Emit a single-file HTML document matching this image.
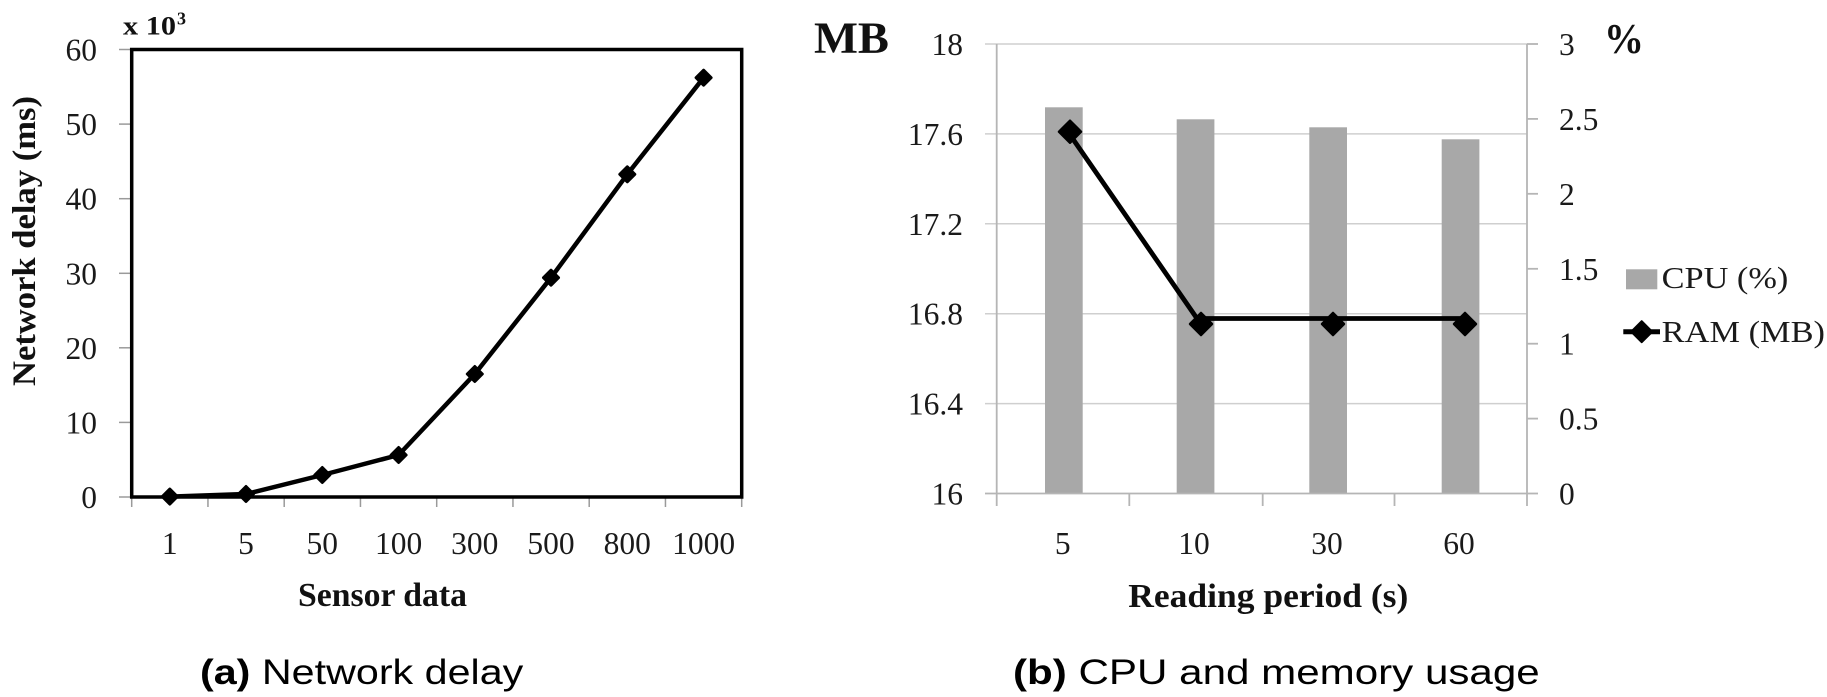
<!DOCTYPE html>
<html>
<head>
<meta charset="utf-8">
<style>
  html, body { margin:0; padding:0; background:#fff; }
  svg { display:block; }
  .serif { font-family: "Liberation Serif", serif; }
  .sans { font-family: "Liberation Sans", sans-serif; }
</style>
</head>
<body>
<svg width="1827" height="697" viewBox="0 0 1827 697" xmlns="http://www.w3.org/2000/svg">
  <rect x="0" y="0" width="1827" height="697" fill="#fff"/>

  <!-- ================= LEFT CHART ================= -->
  <g stroke="#9a9a9a" stroke-width="1.5">
    <line x1="119" y1="49.5" x2="131" y2="49.5"/>
    <line x1="119" y1="124.1" x2="131" y2="124.1"/>
    <line x1="119" y1="198.7" x2="131" y2="198.7"/>
    <line x1="119" y1="273.3" x2="131" y2="273.3"/>
    <line x1="119" y1="347.8" x2="131" y2="347.8"/>
    <line x1="119" y1="422.4" x2="131" y2="422.4"/>
    <line x1="119" y1="497" x2="131" y2="497"/>
  </g>
  <g stroke="#9a9a9a" stroke-width="1.5">
    <line x1="131.7" y1="497" x2="131.7" y2="507"/>
    <line x1="207.95" y1="497" x2="207.95" y2="507"/>
    <line x1="284.2" y1="497" x2="284.2" y2="507"/>
    <line x1="360.45" y1="497" x2="360.45" y2="507"/>
    <line x1="436.7" y1="497" x2="436.7" y2="507"/>
    <line x1="512.95" y1="497" x2="512.95" y2="507"/>
    <line x1="589.2" y1="497" x2="589.2" y2="507"/>
    <line x1="665.45" y1="497" x2="665.45" y2="507"/>
    <line x1="741.7" y1="497" x2="741.7" y2="507"/>
  </g>
  <rect x="131.7" y="49.5" width="610" height="447.5" fill="none" stroke="#000" stroke-width="3.5"/>

  <g class="serif" font-size="31.5" fill="#1a1a1a" text-anchor="end">
    <text x="97" y="60.5">60</text>
    <text x="97" y="135.1">50</text>
    <text x="97" y="209.7">40</text>
    <text x="97" y="284.3">30</text>
    <text x="97" y="358.8">20</text>
    <text x="97" y="433.4">10</text>
    <text x="97" y="508">0</text>
  </g>
  <g class="serif" font-size="31.5" fill="#1a1a1a" text-anchor="middle">
    <text x="169.8" y="554">1</text>
    <text x="246" y="554">5</text>
    <text x="322.3" y="554">50</text>
    <text x="398.6" y="554">100</text>
    <text x="474.8" y="554">300</text>
    <text x="551" y="554">500</text>
    <text x="627.3" y="554">800</text>
    <text x="703.6" y="554">1000</text>
  </g>

  <text class="serif" x="123" y="34.5" font-size="26" font-weight="bold" fill="#111" textLength="53" lengthAdjust="spacingAndGlyphs">x 10</text>
  <text class="serif" x="177" y="24.5" font-size="18" font-weight="bold" fill="#111">3</text>

  <text class="serif" x="298" y="606" font-size="34" font-weight="bold" fill="#111" textLength="169" lengthAdjust="spacingAndGlyphs">Sensor data</text>
  <text class="serif" transform="translate(35,241) rotate(-90)" x="-145" y="0" font-size="33" font-weight="bold" fill="#111" textLength="290" lengthAdjust="spacingAndGlyphs">Network delay  (ms)</text>

  <polyline fill="none" stroke="#000" stroke-width="4.5" stroke-linejoin="round" stroke-linecap="round"
    points="169.8,496.6 246,494 322.3,475 398.6,455 474.8,374 551,277.7 627.3,174.3 703.6,77.7"/>
  <g fill="#000" stroke="#000" stroke-width="3" stroke-linejoin="round">
    <path d="M169.8,489.1 L177.3,496.6 L169.8,504.1 L162.3,496.6 Z"/>
    <path d="M246,486.5 L253.5,494 L246,501.5 L238.5,494 Z"/>
    <path d="M322.3,467.5 L329.8,475 L322.3,482.5 L314.8,475 Z"/>
    <path d="M398.6,447.5 L406.1,455 L398.6,462.5 L391.1,455 Z"/>
    <path d="M474.8,366.5 L482.3,374 L474.8,381.5 L467.3,374 Z"/>
    <path d="M551,270.2 L558.5,277.7 L551,285.2 L543.5,277.7 Z"/>
    <path d="M627.3,166.8 L634.8,174.3 L627.3,181.8 L619.8,174.3 Z"/>
    <path d="M703.6,70.2 L711.1,77.7 L703.6,85.2 L696.1,77.7 Z"/>
  </g>

  <g transform="translate(200,684) scale(1.179,1)">
    <text class="sans" x="0" y="0" font-size="35" fill="#000"><tspan font-weight="bold">(a)</tspan> Network delay</text>
  </g>

  <!-- ================= RIGHT CHART ================= -->
  <g stroke="#cfcfcf" stroke-width="1.5">
    <line x1="985" y1="44" x2="1527" y2="44"/>
    <line x1="985" y1="133.9" x2="1527" y2="133.9"/>
    <line x1="985" y1="223.8" x2="1527" y2="223.8"/>
    <line x1="985" y1="313.7" x2="1527" y2="313.7"/>
    <line x1="985" y1="403.6" x2="1527" y2="403.6"/>
  </g>
  <g fill="#a8a8a8">
    <rect x="1045" y="107.3" width="37.7" height="386.2"/>
    <rect x="1176.7" y="119.3" width="37.7" height="374.2"/>
    <rect x="1309.3" y="127.3" width="37.7" height="366.2"/>
    <rect x="1441.7" y="139.3" width="37.7" height="354.2"/>
  </g>
  <g stroke="#b5b5b5" stroke-width="1.8">
    <line x1="996.7" y1="44" x2="996.7" y2="493.5"/>
    <line x1="1527" y1="44" x2="1527" y2="493.5"/>
    <line x1="985" y1="493.5" x2="1527" y2="493.5"/>
    <line x1="996.7" y1="493.5" x2="996.7" y2="506"/>
    <line x1="1129.3" y1="493.5" x2="1129.3" y2="506"/>
    <line x1="1262.7" y1="493.5" x2="1262.7" y2="506"/>
    <line x1="1394.5" y1="493.5" x2="1394.5" y2="506"/>
    <line x1="1527" y1="493.5" x2="1527" y2="506"/>
    <line x1="1527" y1="44" x2="1538" y2="44"/>
    <line x1="1527" y1="118.9" x2="1538" y2="118.9"/>
    <line x1="1527" y1="193.8" x2="1538" y2="193.8"/>
    <line x1="1527" y1="268.8" x2="1538" y2="268.8"/>
    <line x1="1527" y1="343.7" x2="1538" y2="343.7"/>
    <line x1="1527" y1="418.6" x2="1538" y2="418.6"/>
    <line x1="1527" y1="493.5" x2="1538" y2="493.5"/>
  </g>

  <g class="serif" font-size="31.5" fill="#1a1a1a" text-anchor="end">
    <text x="963" y="55">18</text>
    <text x="963" y="144.9">17.6</text>
    <text x="963" y="234.8">17.2</text>
    <text x="963" y="324.7">16.8</text>
    <text x="963" y="414.6">16.4</text>
    <text x="963" y="504.5">16</text>
  </g>
  <g class="serif" font-size="31.5" fill="#1a1a1a">
    <text x="1559" y="55">3</text>
    <text x="1559" y="129.9">2.5</text>
    <text x="1559" y="204.8">2</text>
    <text x="1559" y="279.8">1.5</text>
    <text x="1559" y="354.7">1</text>
    <text x="1559" y="429.6">0.5</text>
    <text x="1559" y="504.5">0</text>
  </g>
  <g class="serif" font-size="31.5" fill="#1a1a1a" text-anchor="middle">
    <text x="1062.7" y="554">5</text>
    <text x="1194" y="554">10</text>
    <text x="1327" y="554">30</text>
    <text x="1459" y="554">60</text>
  </g>

  <text class="serif" x="814" y="52.3" font-size="44" font-weight="bold" fill="#111" textLength="75" lengthAdjust="spacingAndGlyphs">MB</text>
  <text class="serif" x="1604" y="53" font-size="42" font-weight="bold" fill="#111" textLength="40" lengthAdjust="spacingAndGlyphs">%</text>

  <text class="serif" x="1128.3" y="607" font-size="34" font-weight="bold" fill="#111" textLength="280" lengthAdjust="spacingAndGlyphs">Reading period (s)</text>

  <polyline fill="none" stroke="#000" stroke-width="4.8" stroke-linejoin="round" stroke-linecap="round"
    points="1066,129 1197,318.5 1329,318.5 1461,318.5"/>
  <g fill="#000" stroke="#000" stroke-width="2.5" stroke-linejoin="round">
    <path d="M1070,120.7 L1081,131.7 L1070,142.7 L1059,131.7 Z"/>
    <path d="M1201,313 L1212,324 L1201,335 L1190,324 Z"/>
    <path d="M1333,313 L1344,324 L1333,335 L1322,324 Z"/>
    <path d="M1465,313 L1476,324 L1465,335 L1454,324 Z"/>
  </g>

  <rect x="1626" y="269.3" width="31.3" height="20" fill="#a8a8a8"/>
  <text class="serif" x="1661.7" y="288" font-size="31" fill="#1a1a1a" textLength="126.6" lengthAdjust="spacingAndGlyphs">CPU (%)</text>
  <line x1="1623.3" y1="331.7" x2="1660" y2="331.7" stroke="#000" stroke-width="5"/>
  <path d="M1641.7,321.2 L1652.2,331.7 L1641.7,342.2 L1631.2,331.7 Z" fill="#000" stroke="#000" stroke-width="2" stroke-linejoin="round"/>
  <text class="serif" x="1661.7" y="342" font-size="31" fill="#1a1a1a" textLength="163.3" lengthAdjust="spacingAndGlyphs">RAM (MB)</text>

  <g transform="translate(1013,684) scale(1.204,1)">
    <text class="sans" x="0" y="0" font-size="35" fill="#000"><tspan font-weight="bold">(b)</tspan> CPU and memory usage</text>
  </g>
</svg>
</body>
</html>
